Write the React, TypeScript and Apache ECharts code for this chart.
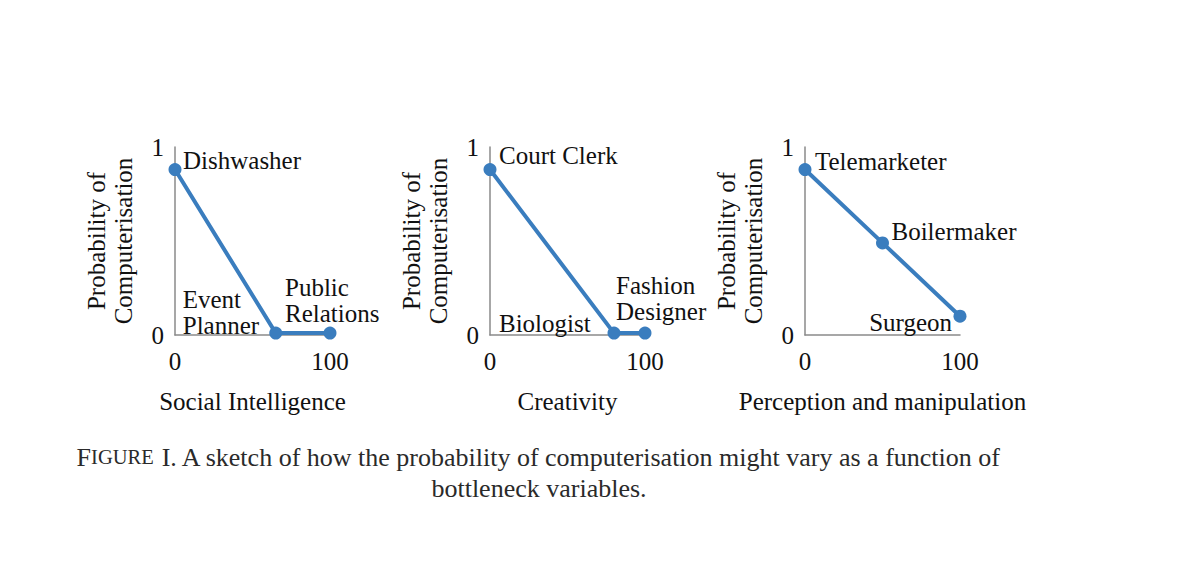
import React, { useEffect, useRef } from "react";
import * as echarts from "echarts";

// ---- data ----
const X_TITLES = ["Social Intelligence", "Creativity", "Perception and manipulation"];
const Y_TITLE = "Probability of\nComputerisation";
const X_TICKS = [0, 100];
const Y_TICKS = [0, 1];

const SOCIAL_X = [0, 65, 100];
const SOCIAL_Y = [0.88, 0.01, 0.01];
const SOCIAL_NAMES = ["Dishwasher", "Event\nPlanner", "Public\nRelations"];

const CREATIVE_X = [0, 80, 100];
const CREATIVE_Y = [0.88, 0.01, 0.01];
const CREATIVE_NAMES = ["Court Clerk", "Biologist", "Fashion\nDesigner"];

const PERCEPT_X = [0, 50, 100];
const PERCEPT_Y = [0.88, 0.49, 0.1];
const PERCEPT_NAMES = ["Telemarketer", "Boilermaker", "Surgeon"];

const CAPTION_1 = "{big|F}{small|IGURE} I. A sketch of how the probability of computerisation might vary as a function of";
const CAPTION_2 = "bottleneck variables.";

// ---- layout / style (not data) ----
const FONT = "Liberation Serif";
const LINE = "#3A7DBE";
const AXIS = "#8a8a8a";
const GRID_LEFT = [175, 490, 805];
const GRID_TOP = 147;
const GRID_W = 155;
const GRID_H = 188;

type LabelLayout = { dx: number; dy: number; align: string };
const LABEL_LAYOUT: LabelLayout[][] = [
  [
    { dx: 8, dy: -9, align: "left" },
    { dx: -93, dy: -21, align: "left" },
    { dx: -45, dy: -33, align: "left" },
  ],
  [
    { dx: 9, dy: -14, align: "left" },
    { dx: -115, dy: -10, align: "left" },
    { dx: -29, dy: -35, align: "left" },
  ],
  [
    { dx: 10, dy: -8, align: "left" },
    { dx: 9, dy: -11, align: "left" },
    { dx: -8, dy: 6, align: "right" },
  ],
];

const PANELS = [
  { xs: SOCIAL_X, ys: SOCIAL_Y, names: SOCIAL_NAMES },
  { xs: CREATIVE_X, ys: CREATIVE_Y, names: CREATIVE_NAMES },
  { xs: PERCEPT_X, ys: PERCEPT_Y, names: PERCEPT_NAMES },
];

export default function App() {
  const ref = useRef<HTMLDivElement>(null);

  useEffect(() => {
    if (!ref.current) return;
    const chart = echarts.init(ref.current, undefined, { renderer: "svg" });

    const textBase = { fontFamily: FONT, fontSize: 25, color: "#111" };

    const grids = GRID_LEFT.map((left) => ({
      left,
      top: GRID_TOP,
      width: GRID_W,
      height: GRID_H,
      containLabel: false,
    }));

    const xAxes = GRID_LEFT.map((_, i) => ({
      type: "value",
      gridIndex: i,
      min: X_TICKS[0],
      max: X_TICKS[X_TICKS.length - 1],
      interval: X_TICKS[1] - X_TICKS[0],
      name: X_TITLES[i],
      nameLocation: "middle",
      nameGap: 54,
      nameTextStyle: { ...textBase },
      axisLine: { show: true, lineStyle: { color: AXIS, width: 1.5 } },
      axisTick: { show: false },
      splitLine: { show: false },
      axisLabel: { ...textBase, margin: 14 },
    }));

    const yAxes = GRID_LEFT.map((_, i) => ({
      type: "value",
      gridIndex: i,
      min: Y_TICKS[0],
      max: Y_TICKS[Y_TICKS.length - 1],
      interval: Y_TICKS[1] - Y_TICKS[0],
      name: Y_TITLE,
      nameLocation: "middle",
      nameGap: 38,
      nameTextStyle: { ...textBase, lineHeight: 27 },
      axisLine: { show: true, lineStyle: { color: AXIS, width: 1.5 } },
      axisTick: { show: false },
      splitLine: { show: false },
      axisLabel: { ...textBase, margin: 11 },
    }));

    const series = PANELS.map((p, i) => ({
      type: "line",
      xAxisIndex: i,
      yAxisIndex: i,
      symbol: "circle",
      symbolSize: 13,
      lineStyle: { color: LINE, width: 4 },
      itemStyle: { color: LINE },
      data: p.xs.map((x, j) => ({
        value: [x, p.ys[j]],
        label: {
          show: true,
          formatter: p.names[j],
          position: ["50%", "50%"],
          offset: [LABEL_LAYOUT[i][j].dx, LABEL_LAYOUT[i][j].dy],
          align: LABEL_LAYOUT[i][j].align,
          verticalAlign: "middle",
          lineHeight: 26,
          ...textBase,
        },
      })),
    }));

    chart.setOption({
      animation: false,
      backgroundColor: "#ffffff",
      grid: grids,
      xAxis: xAxes,
      yAxis: yAxes,
      series,
      graphic: [
        {
          type: "text",
          x: 539,
          y: 457,
          style: {
            text: CAPTION_1,
            fontFamily: FONT,
            fontSize: 26,
            fill: "#2a2a2a",
            align: "center",
            verticalAlign: "middle",
            rich: {
              big: { fontFamily: FONT, fontSize: 26, fill: "#2a2a2a" },
              small: { fontFamily: FONT, fontSize: 20.5, fill: "#2a2a2a" },
            },
          },
        },
        {
          type: "text",
          x: 539,
          y: 488,
          style: {
            text: CAPTION_2,
            fontFamily: FONT,
            fontSize: 26,
            fill: "#2a2a2a",
            align: "center",
            verticalAlign: "middle",
          },
        },
      ],
    });

    return () => chart.dispose();
  }, []);

  return (
    <div
      ref={ref}
      style={{ position: "fixed", left: 0, top: 0, width: 1200, height: 561, background: "#fff" }}
    />
  );
}
